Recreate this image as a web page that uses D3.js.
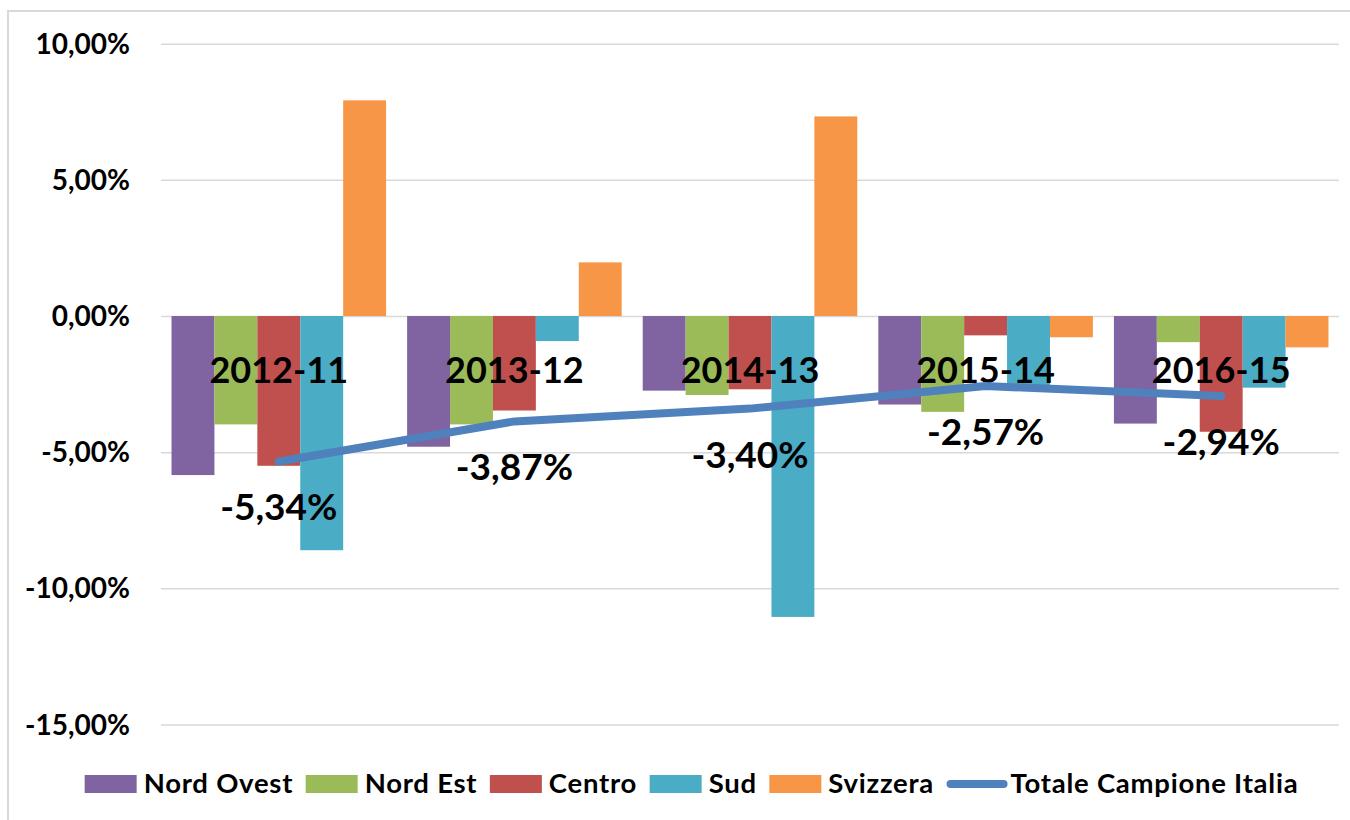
<html>
<head>
  <script src="https://d3js.org/d3.v7.min.js"></script>
  <style>
    body { margin: 0; background: #fff; }
    text { font-family: Lato, "Open Sans", sans-serif; font-weight: bold; fill: #000; }
    .gridlines line { stroke: #d9d9d9; stroke-width: 1.5; }
    .gridlines .domain { stroke: none; }
  </style>
</head>
<body>
  <svg id="p" width="1350" height="820"></svg>
  <script>
    // data (percent)
    const categories = ["2012-11", "2013-12", "2014-13", "2015-14", "2016-15"];
    const seriesNames = ["Nord Ovest", "Nord Est", "Centro", "Sud", "Svizzera"];
    const nordOvest = [-5.84, -4.80, -2.74, -3.25, -3.95];
    const nordEst   = [-3.98, -3.98, -2.90, -3.52, -0.96];
    const centro    = [-5.50, -3.47, -2.69, -0.71, -4.25];
    const sud       = [-8.60, -0.92, -11.05, -2.63, -2.63];
    const svizzera  = [7.92, 1.97, 7.33, -0.78, -1.15];
    const totaleName = "Totale Campione Italia";
    const totale    = [-5.34, -3.87, -3.40, -2.57, -2.94];
    const yTicks = [-15, -10, -5, 0, 5, 10];

    const seriesValues = [nordOvest, nordEst, centro, sud, svizzera];
    const colors = ["#8064A2", "#9BBB59", "#C0504D", "#4BACC6", "#F79646"];
    const lineColor = "#4F81BD";

    const it = d3.formatLocale({decimal: ",", thousands: ".", grouping: [3], currency: ["", "€"], minus: "-"});
    const pct = v => it.format(".2f")(v) + "%";

    const svg = d3.select("svg#p");
    const plot = {left: 161, right: 1339, top: 43.7, bottom: 724.5};

    // chart frame
    svg.append("rect")
       .attr("x", 8).attr("y", 11).attr("width", 1400).attr("height", 900)
       .attr("fill", "none").attr("stroke", "#d9d9d9").attr("stroke-width", 2);

    const y = d3.scaleLinear().domain([-15, 10]).range([plot.bottom, plot.top]);
    const x0 = d3.scaleBand().domain(categories).range([plot.left, plot.right]);
    const x1 = d3.scaleBand().domain(seriesNames).range([0, x0.bandwidth()]).paddingOuter(0.245);

    // gridlines
    svg.append("g")
       .attr("class", "gridlines")
       .attr("transform", "translate(" + plot.left + ",0)")
       .call(d3.axisLeft(y).tickValues(yTicks).tickSize(-(plot.right - plot.left)).tickFormat(""));

    // y labels
    svg.append("g").selectAll("text").data(yTicks).join("text")
       .attr("x", 130)
       .attr("y", d => y(d) + 10)
       .attr("text-anchor", "end")
       .style("font-size", "28px")
       .text(d => pct(d));

    // bars
    const groups = svg.append("g").selectAll("g").data(categories).join("g")
       .attr("transform", d => "translate(" + x0(d) + ",0)");
    groups.selectAll("rect")
       .data((c, i) => seriesNames.map((s, j) => ({s: s, v: seriesValues[j][i], c: colors[j]})))
       .join("rect")
       .attr("x", d => x1(d.s))
       .attr("width", x1.bandwidth())
       .attr("y", d => y(Math.max(0, d.v)))
       .attr("height", d => Math.abs(y(d.v) - y(0)))
       .attr("fill", d => d.c);

    // category labels (sit near the axis, over the bars)
    svg.append("g").selectAll("text").data(categories).join("text")
       .attr("x", d => x0(d) + x0.bandwidth() / 2)
       .attr("y", 383)
       .attr("text-anchor", "middle")
       .style("font-size", "36px")
       .text(d => d);

    // total line
    const line = d3.line()
       .x((d, i) => x0(categories[i]) + x0.bandwidth() / 2)
       .y(d => y(d));
    svg.append("path")
       .datum(totale)
       .attr("d", line)
       .attr("fill", "none")
       .attr("stroke", lineColor)
       .attr("stroke-width", 8)
       .attr("stroke-linecap", "round")
       .attr("stroke-linejoin", "round");

    svg.append("g").selectAll("text").data(totale).join("text")
       .attr("x", (d, i) => x0(categories[i]) + x0.bandwidth() / 2)
       .attr("y", d => y(d) + 59)
       .attr("text-anchor", "middle")
       .style("font-size", "37px")
       .text(d => pct(d));

    // legend
    const legend = svg.append("g");
    const items = seriesNames.map((s, j) => ({name: s, color: colors[j], line: false}))
       .concat([{name: totaleName, color: lineColor, line: true}]);
    let lx = 0;
    items.forEach(d => {
      const g = legend.append("g").attr("transform", "translate(" + lx + ",0)");
      let w;
      if (d.line) {
        g.append("line").attr("x1", 4).attr("x2", 57).attr("y1", 784).attr("y2", 784)
         .attr("stroke", d.color).attr("stroke-width", 8).attr("stroke-linecap", "round");
        w = 64;
      } else {
        g.append("rect").attr("x", 0).attr("y", 775).attr("width", 52).attr("height", 18)
         .attr("fill", d.color);
        w = 59;
      }
      const t = g.append("text").attr("x", w).attr("y", 793)
         .style("font-size", "27.5px").style("letter-spacing", "0.75px").text(d.name);
      lx += w + t.node().getComputedTextLength() + 12.5;
    });
    const legendWidth = lx - 12.5;
    legend.attr("transform", "translate(" + (691.5 - legendWidth / 2) + ",0)");
  </script>
</body>
</html>
